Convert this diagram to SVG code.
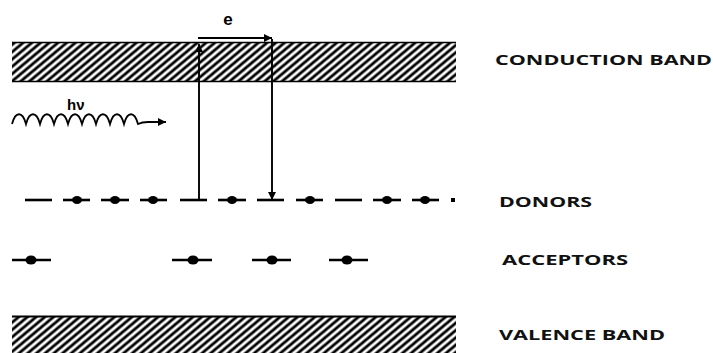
<svg xmlns="http://www.w3.org/2000/svg" width="713" height="353" viewBox="0 0 713 353">
  <defs>
    <!-- diagonal hatching for the energy bands -->
    <pattern id="hatch" patternUnits="userSpaceOnUse" width="10" height="5.6" patternTransform="rotate(-40)">
      <line x1="-2" y1="2.8" x2="12" y2="2.8" stroke="#000" stroke-width="2.8"/>
    </pattern>
    <marker id="head" viewBox="0 0 10 10" refX="10" refY="5" markerWidth="10" markerHeight="8" markerUnits="userSpaceOnUse" orient="auto">
      <path d="M0,0 L10,5 L0,10 Z" fill="#000"/>
    </marker>
  </defs>
  <style>
    .lvl { stroke: #000; stroke-width: 2.6; fill: none; }
    .dot { fill: #000; }
    .conn { stroke: #000; stroke-width: 1.9; fill: none; marker-end: url(#head); }
    .lbl { font-family: "Open Sans", "DejaVu Sans", sans-serif; font-weight: bold; font-size: 14px; fill: #111; }
    .sym { font-family: "Liberation Sans", Arial, sans-serif; font-weight: bold; fill: #000; }
  </style>
  <rect width="713" height="353" fill="#fff"/>

  <!-- conduction band -->
  <g id="conduction-band">
    <rect x="12" y="42" width="444" height="40" fill="url(#hatch)"/>
    <line x1="12" y1="42.5" x2="456" y2="42.5" stroke="#000" stroke-width="1.5"/>
    <line x1="12" y1="81.5" x2="456" y2="81.5" stroke="#000" stroke-width="1.5"/>
  </g>

  <!-- valence band -->
  <g id="valence-band">
    <rect x="12" y="316" width="444" height="37" fill="url(#hatch)"/>
    <line x1="12" y1="316.5" x2="456" y2="316.5" stroke="#000" stroke-width="1.8"/>
  </g>

  <!-- donor level -->
  <g id="donors">
    <line class="lvl" x1="25" y1="200" x2="52" y2="200"/>
    <line class="lvl" x1="63" y1="200" x2="90" y2="200"/><ellipse class="dot" cx="77" cy="200" rx="5" ry="4"/>
    <line class="lvl" x1="101" y1="200" x2="129" y2="200"/><ellipse class="dot" cx="115" cy="200" rx="5" ry="4"/>
    <line class="lvl" x1="140" y1="200" x2="167" y2="200"/><ellipse class="dot" cx="153" cy="200" rx="5" ry="4"/>
    <line class="lvl" x1="180" y1="200" x2="207" y2="200"/>
    <line class="lvl" x1="218" y1="200" x2="246" y2="200"/><ellipse class="dot" cx="232" cy="200" rx="5" ry="4"/>
    <line class="lvl" x1="257" y1="200" x2="284" y2="200"/>
    <line class="lvl" x1="296" y1="200" x2="323" y2="200"/><ellipse class="dot" cx="310" cy="200" rx="5" ry="4"/>
    <line class="lvl" x1="335" y1="200" x2="362" y2="200"/>
    <line class="lvl" x1="373" y1="200" x2="401" y2="200"/><ellipse class="dot" cx="387" cy="200" rx="5" ry="4"/>
    <line class="lvl" x1="412" y1="200" x2="439" y2="200"/><ellipse class="dot" cx="425" cy="200" rx="5" ry="4"/>
    <rect x="451" y="198" width="4" height="4" fill="#000"/>
  </g>

  <!-- acceptor level -->
  <g id="acceptors">
    <line class="lvl" x1="12" y1="260" x2="51" y2="260"/><ellipse class="dot" cx="31" cy="260" rx="5.5" ry="4.5"/>
    <line class="lvl" x1="172" y1="260" x2="212" y2="260"/><ellipse class="dot" cx="193" cy="260" rx="5.5" ry="4.5"/>
    <line class="lvl" x1="252" y1="260" x2="291" y2="260"/><ellipse class="dot" cx="272" cy="260" rx="5.5" ry="4.5"/>
    <line class="lvl" x1="329" y1="260" x2="368" y2="260"/><ellipse class="dot" cx="347" cy="260" rx="5.5" ry="4.5"/>
  </g>

  <!-- incoming photon: a train of arches ending in an arrow -->
  <g id="photon">
    <path d="M12,124 c3.5,-13 10.5,-13 14,0 c3.5,-13 10.5,-13 14,0 c3.5,-13 10.5,-13 14,0 c3.5,-13 10.5,-13 14,0 c3.5,-13 10.5,-13 14,0 c3.5,-13 10.5,-13 14,0 c3.5,-13 10.5,-13 14,0 c3.5,-13 10.5,-13 14,0 c3.5,-13 10.5,-13 14,0 q4,-2 10,-2 L166,122" stroke="#000" stroke-width="1.8" fill="none" marker-end="url(#head)"/>
    <text class="sym" x="67" y="110" font-size="15">hν</text>
  </g>

  <!-- electron transitions -->
  <g id="connectors">
    <line class="conn" x1="199" y1="200" x2="199" y2="44"/>
    <line class="conn" x1="198" y1="38" x2="272" y2="38"/>
    <line class="conn" x1="272" y1="39" x2="272" y2="200"/>
    <text class="sym" x="228" y="25" font-size="17" text-anchor="middle">e</text>
  </g>

  <!-- level labels -->
  <g id="labels">
    <text class="lbl" x="495" y="65" textLength="217" lengthAdjust="spacingAndGlyphs">CONDUCTION BAND</text>
    <text class="lbl" x="499" y="207" textLength="93" lengthAdjust="spacingAndGlyphs">DONORS</text>
    <text class="lbl" x="502" y="265" textLength="126" lengthAdjust="spacingAndGlyphs">ACCEPTORS</text>
    <text class="lbl" x="499" y="340" textLength="166" lengthAdjust="spacingAndGlyphs">VALENCE BAND</text>
  </g>
</svg>
